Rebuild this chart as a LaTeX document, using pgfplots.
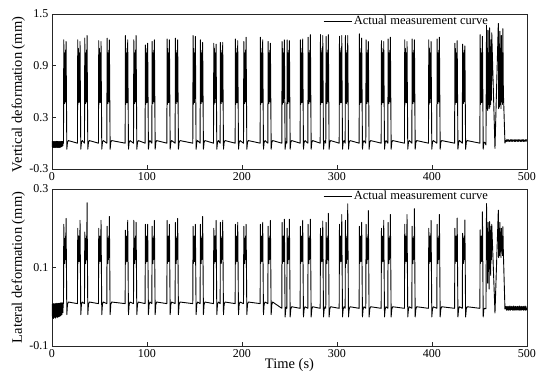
\documentclass[border=0pt]{standalone}
\usepackage{pgfplots}
\pgfplotsset{compat=1.18}
\usepackage{pgfplotstable}
\usepackage{fontspec}
\setmainfont{Liberation Serif}

\pgfplotstableread{
t v l
0.00 -0.03 -0.010
0.25 0.02 0.006
0.50 -0.05 -0.028
0.75 0.01 0.004
1.00 -0.04 -0.022
1.25 0.02 0.008
1.50 -0.05 -0.030
1.75 0.00 0.002
2.00 -0.04 -0.025
2.25 0.02 0.007
2.50 -0.05 -0.027
2.75 0.01 0.005
3.00 -0.03 -0.020
3.25 0.02 0.008
3.50 -0.05 -0.029
3.75 0.01 0.003
4.00 -0.04 -0.024
4.25 0.02 0.008
4.50 -0.05 -0.026
4.75 0.01 0.006
5.00 -0.04 -0.021
5.25 0.02 0.009
5.50 -0.05 -0.028
5.75 0.00 0.004
6.00 -0.04 -0.023
6.25 0.02 0.008
6.50 -0.05 -0.026
6.75 0.01 0.006
7.00 -0.03 -0.019
7.25 0.02 0.009
7.50 -0.05 -0.025
7.75 0.01 0.005
8.00 -0.04 -0.022
8.25 0.02 0.009
8.50 -0.05 -0.024
8.75 0.01 0.007
9.00 -0.04 -0.018
9.25 0.02 0.010
9.50 -0.04 -0.022
9.75 0.01 0.006
10.00 -0.04 -0.016
10.25 0.02 0.010
10.50 -0.04 -0.020
10.75 0.01 0.008
11.00 -0.03 -0.014
11.25 0.02 0.010
11.50 -0.03 -0.015
11.75 0.01 0.008
12.1 0.00 0.008
12.4 1.20 0.210
12.7 0.50 0.120
13.0 1.05 0.175
13.3 0.46 0.110
13.6 1.00 0.165
13.9 0.52 0.120
14.2 1.08 0.180
14.5 0.48 0.130
14.8 1.18 0.225
15.6 -0.07 -0.020
16.3 0.01 0.006
17.2 0.03 0.012
26.8 0.00 0.008
27.1 1.20 0.200
27.4 0.45 0.110
27.7 1.10 0.170
28.0 0.50 0.125
28.3 0.95 0.180
28.6 0.47 0.115
28.9 1.05 0.170
29.2 0.52 0.125
29.5 1.18 0.220
30.3 -0.07 -0.020
31.0 0.01 0.006
31.9 0.03 0.012
34.2 0.00 0.008
34.5 1.22 0.190
34.8 0.50 0.120
35.1 1.05 0.175
35.4 0.46 0.110
35.7 1.00 0.165
36.0 0.52 0.120
36.3 1.08 0.180
36.6 0.48 0.130
36.9 1.25 0.265
37.7 -0.07 -0.020
38.4 0.01 0.006
39.3 0.03 0.012
48.9 0.00 0.008
49.2 1.19 0.200
49.5 0.45 0.110
49.8 1.10 0.170
50.1 0.50 0.125
50.4 0.95 0.180
50.7 0.47 0.115
51.0 1.05 0.170
51.3 0.52 0.125
51.6 1.18 0.220
52.4 -0.07 -0.020
53.1 0.01 0.006
54.0 0.03 0.012
57.7 0.00 0.008
58.0 1.22 0.205
58.3 0.50 0.120
58.6 1.05 0.175
58.9 0.46 0.110
59.2 1.00 0.165
59.5 0.52 0.120
59.8 1.08 0.180
60.1 0.48 0.130
60.4 1.20 0.230
61.2 -0.07 -0.020
61.9 0.01 0.006
62.8 0.03 0.012
77.0 0.00 0.008
77.3 1.25 0.195
77.6 0.45 0.110
77.9 1.10 0.170
78.2 0.50 0.125
78.5 0.95 0.180
78.8 0.47 0.115
79.1 1.05 0.170
79.4 0.52 0.125
79.7 1.20 0.220
80.5 -0.07 -0.020
81.2 0.01 0.006
82.1 0.03 0.012
85.8 0.00 0.008
86.1 1.20 0.220
86.4 0.50 0.120
86.7 1.05 0.175
87.0 0.46 0.110
87.3 1.00 0.165
87.6 0.52 0.120
87.9 1.08 0.180
88.2 0.48 0.130
88.5 1.25 0.215
89.3 -0.07 -0.020
90.0 0.01 0.006
90.9 0.03 0.012
98.0 0.00 0.008
98.3 1.14 0.210
98.6 0.45 0.110
98.9 1.10 0.170
99.2 0.50 0.125
99.5 0.95 0.180
99.8 0.47 0.115
100.1 1.05 0.170
100.4 0.52 0.125
100.7 1.16 0.210
101.5 -0.07 -0.020
102.2 0.01 0.006
103.1 0.03 0.012
105.1 0.00 0.008
105.4 1.18 0.205
105.7 0.50 0.120
106.0 1.05 0.175
106.3 0.46 0.110
106.6 1.00 0.165
106.9 0.52 0.120
107.2 1.08 0.180
107.5 0.48 0.130
107.8 1.20 0.220
108.6 -0.07 -0.020
109.3 0.01 0.006
110.2 0.03 0.012
120.9 0.00 0.008
121.2 1.21 0.220
121.5 0.45 0.110
121.8 1.10 0.170
122.1 0.50 0.125
122.4 0.95 0.180
122.7 0.47 0.115
123.0 1.05 0.170
123.3 0.52 0.125
123.6 1.20 0.210
124.4 -0.07 -0.020
125.1 0.01 0.006
126.0 0.03 0.012
129.6 0.00 0.008
129.9 1.22 0.215
130.2 0.50 0.120
130.5 1.05 0.175
130.8 0.46 0.110
131.1 1.00 0.165
131.4 0.52 0.120
131.7 1.08 0.180
132.0 0.48 0.130
132.3 1.20 0.225
133.1 -0.07 -0.020
133.8 0.01 0.006
134.7 0.03 0.012
148.2 0.00 0.008
148.5 1.25 0.205
148.8 0.45 0.110
149.1 1.10 0.170
149.4 0.50 0.125
149.7 0.95 0.180
150.0 0.47 0.115
150.3 1.05 0.170
150.6 0.52 0.125
150.9 1.24 0.210
151.7 -0.07 -0.020
152.4 0.01 0.006
153.3 0.03 0.012
155.9 0.00 0.008
156.2 1.20 0.210
156.5 0.50 0.120
156.8 1.05 0.175
157.1 0.46 0.110
157.4 1.00 0.165
157.7 0.52 0.120
158.0 1.08 0.180
158.3 0.48 0.130
158.6 1.17 0.230
159.4 -0.07 -0.020
160.1 0.01 0.006
161.0 0.03 0.012
170.0 0.00 0.008
170.3 1.16 0.200
170.6 0.45 0.110
170.9 1.10 0.170
171.2 0.50 0.125
171.5 0.95 0.180
171.8 0.47 0.115
172.1 1.05 0.170
172.4 0.52 0.125
172.7 1.15 0.220
173.5 -0.07 -0.020
174.2 0.01 0.006
175.1 0.03 0.012
177.0 0.00 0.008
177.3 1.17 0.215
177.6 0.50 0.120
177.9 1.05 0.175
178.2 0.46 0.110
178.5 1.00 0.165
178.8 0.52 0.120
179.1 1.08 0.180
179.4 0.48 0.130
179.7 1.17 0.220
180.5 -0.07 -0.020
181.2 0.01 0.006
182.1 0.03 0.012
192.8 0.00 0.008
193.1 1.21 0.210
193.4 0.45 0.110
193.7 1.10 0.170
194.0 0.50 0.125
194.3 0.95 0.180
194.6 0.47 0.115
194.9 1.05 0.170
195.2 0.52 0.125
195.5 1.19 0.215
196.3 -0.07 -0.020
197.0 0.01 0.006
197.9 0.03 0.012
201.6 0.00 0.008
201.9 1.18 0.205
202.2 0.50 0.120
202.5 1.05 0.175
202.8 0.46 0.110
203.1 1.00 0.165
203.4 0.52 0.120
203.7 1.08 0.180
204.0 0.48 0.130
204.3 1.23 0.210
205.1 -0.07 -0.020
205.8 0.01 0.006
206.7 0.03 0.012
219.1 0.00 0.008
219.4 1.23 0.210
219.7 0.45 0.110
220.0 1.10 0.170
220.3 0.50 0.125
220.6 0.95 0.180
220.9 0.47 0.115
221.2 1.05 0.170
221.5 0.52 0.125
221.8 1.20 0.215
222.6 -0.07 -0.020
223.3 0.01 0.006
224.2 0.03 0.012
227.2 0.00 0.008
227.5 1.18 0.205
227.8 0.50 0.120
228.1 1.05 0.175
228.4 0.46 0.110
228.7 1.00 0.165
229.0 0.52 0.120
229.3 1.08 0.180
229.6 0.48 0.130
229.9 1.16 0.220
230.7 -0.07 -0.020
231.4 0.01 0.006
232.3 0.03 0.012
241.9 0.00 -0.004
242.2 1.18 0.215
242.5 0.45 0.110
242.8 1.10 0.170
243.1 0.50 0.125
243.4 0.95 0.180
243.7 0.47 0.115
244.0 1.05 0.170
244.3 0.52 0.125
244.6 1.20 0.223
245.4 -0.07 -0.026
246.1 0.01 -0.006
246.9 0.02 0.000
247.2 0.00 -0.004
247.5 1.20 0.200
247.8 0.50 0.120
248.1 1.05 0.175
248.4 0.46 0.110
248.7 1.00 0.165
249.0 0.52 0.120
249.3 1.08 0.180
249.6 0.48 0.130
249.9 1.19 0.223
250.7 -0.07 -0.026
251.4 0.01 -0.006
252.3 0.03 0.000
261.2 0.00 -0.004
261.5 1.20 0.205
261.8 0.45 0.110
262.1 1.10 0.170
262.4 0.50 0.125
262.7 0.95 0.180
263.0 0.47 0.115
263.3 1.05 0.170
263.6 0.52 0.125
263.9 1.21 0.220
264.7 -0.07 -0.026
265.4 0.01 -0.006
266.3 0.03 0.000
269.3 0.00 -0.004
269.6 1.23 0.210
269.9 0.50 0.120
270.2 1.05 0.175
270.5 0.46 0.110
270.8 1.00 0.165
271.1 0.52 0.120
271.4 1.08 0.180
271.7 0.48 0.130
272.0 1.26 0.223
272.8 -0.07 -0.026
273.5 0.01 -0.006
274.4 0.03 0.000
282.3 0.00 -0.004
282.6 1.26 0.200
282.9 0.45 0.110
283.2 1.10 0.170
283.5 0.50 0.125
283.8 0.95 0.180
284.1 0.47 0.115
284.4 1.05 0.170
284.7 0.52 0.125
285.0 1.25 0.218
285.8 -0.07 -0.026
286.5 0.01 -0.006
287.4 0.03 0.000
288.2 0.00 -0.004
288.5 1.24 0.215
288.8 0.50 0.120
289.1 1.05 0.175
289.4 0.46 0.110
289.7 1.00 0.165
290.0 0.52 0.120
290.3 1.08 0.180
290.6 0.48 0.130
290.9 1.26 0.238
291.7 -0.07 -0.026
292.4 0.01 -0.006
293.3 0.03 0.000
302.3 0.00 -0.004
302.6 1.24 0.210
302.9 0.45 0.110
303.2 1.10 0.170
303.5 0.50 0.125
303.8 0.95 0.180
304.1 0.47 0.115
304.4 1.05 0.170
304.7 0.52 0.125
305.0 1.25 0.235
305.8 -0.07 -0.026
306.5 0.01 -0.006
307.4 0.03 0.000
308.6 0.00 -0.004
308.9 1.25 0.220
309.2 0.50 0.120
309.5 1.05 0.175
309.8 0.46 0.110
310.1 1.00 0.165
310.4 0.52 0.120
310.7 1.08 0.180
311.0 0.48 0.130
311.3 1.25 0.262
312.1 -0.07 -0.026
312.8 0.01 -0.006
313.7 0.03 0.000
323.3 0.00 -0.004
323.6 1.27 0.205
323.9 0.45 0.110
324.2 1.10 0.170
324.5 0.50 0.125
324.8 0.95 0.180
325.1 0.47 0.115
325.4 1.05 0.170
325.7 0.52 0.125
326.0 1.22 0.215
326.8 -0.07 -0.026
327.5 0.01 -0.006
328.4 0.03 0.000
330.3 0.00 -0.004
330.6 1.20 0.210
330.9 0.50 0.120
331.2 1.05 0.175
331.5 0.46 0.110
331.8 1.00 0.165
332.1 0.52 0.120
332.4 1.08 0.180
332.7 0.48 0.130
333.0 1.18 0.245
333.8 -0.07 -0.026
334.5 0.01 -0.006
335.4 0.03 0.000
346.5 0.00 -0.004
346.8 1.19 0.200
347.1 0.45 0.110
347.4 1.10 0.170
347.7 0.50 0.125
348.0 0.95 0.180
348.3 0.47 0.115
348.6 1.05 0.170
348.9 0.52 0.125
349.2 1.18 0.220
350.0 -0.07 -0.026
350.7 0.01 -0.006
351.6 0.03 0.000
353.5 0.00 -0.004
353.8 1.21 0.215
354.1 0.50 0.120
354.4 1.05 0.175
354.7 0.46 0.110
355.0 1.00 0.165
355.3 0.52 0.120
355.6 1.08 0.180
355.9 0.48 0.130
356.2 1.23 0.235
357.0 -0.07 -0.026
357.7 0.01 -0.006
358.6 0.03 0.000
371.0 0.00 -0.004
371.3 1.20 0.210
371.6 0.45 0.110
371.9 1.10 0.170
372.2 0.50 0.125
372.5 0.95 0.180
372.8 0.47 0.115
373.1 1.05 0.170
373.4 0.52 0.125
373.7 1.18 0.235
374.5 -0.07 -0.026
375.2 0.01 -0.006
376.1 0.03 0.000
378.8 0.00 -0.004
379.1 1.21 0.205
379.4 0.50 0.120
379.7 1.05 0.175
380.0 0.46 0.110
380.3 1.00 0.165
380.6 0.52 0.120
380.9 1.08 0.180
381.2 0.48 0.130
381.5 1.20 0.250
382.3 -0.07 -0.026
383.0 0.01 -0.006
383.9 0.03 0.000
396.3 0.00 -0.004
396.6 1.20 0.200
396.9 0.45 0.110
397.2 1.10 0.170
397.5 0.50 0.125
397.8 0.95 0.180
398.1 0.47 0.115
398.4 1.05 0.170
398.7 0.52 0.125
399.0 1.18 0.220
399.8 -0.07 -0.026
400.5 0.01 -0.006
401.4 0.03 0.000
405.1 0.00 -0.004
405.4 1.21 0.210
405.7 0.50 0.120
406.0 1.05 0.175
406.3 0.46 0.110
406.6 1.00 0.165
406.9 0.52 0.120
407.2 1.08 0.180
407.5 0.48 0.130
407.8 1.23 0.235
408.6 -0.07 -0.026
409.3 0.01 -0.006
410.2 0.03 0.000
423.8 0.00 -0.004
424.1 1.16 0.200
424.4 0.45 0.110
424.7 1.10 0.170
425.0 0.50 0.125
425.3 0.95 0.180
425.6 0.47 0.115
425.9 1.05 0.170
426.2 0.52 0.125
426.5 1.19 0.226
427.3 -0.07 -0.026
428.0 0.01 -0.006
428.9 0.03 0.000
431.9 0.00 -0.004
432.2 1.15 0.187
432.5 0.50 0.120
432.8 1.05 0.175
433.1 0.46 0.110
433.4 1.00 0.165
433.7 0.52 0.120
434.0 1.08 0.180
434.3 0.48 0.130
434.6 1.13 0.221
435.4 -0.07 -0.026
436.1 0.01 -0.006
437.0 0.03 0.000
450.4 0.00 -0.004
450.7 1.26 0.196
451.0 0.45 0.110
451.3 1.10 0.170
451.6 0.50 0.125
451.9 0.95 0.180
452.2 0.47 0.115
452.5 1.05 0.170
452.8 0.52 0.125
453.1 1.24 0.242
453.9 -0.07 -0.026
454.6 0.01 -0.006
455.5 0.01 -0.004
456.8 -0.02 -0.005
457.4 1.37 0.263
457.8 0.40 0.120
458.2 1.10 0.200
458.6 0.38 0.060
459.0 1.31 0.215
459.4 0.45 0.090
459.8 1.05 0.190
460.2 0.40 0.045
460.6 1.34 0.217
461.0 0.42 0.110
461.4 1.12 0.195
461.8 0.45 0.080
462.2 1.20 0.205
462.6 0.50 0.120
462.9 1.28 0.210
466.3 -0.06 -0.016
469.8 1.39 0.246
470.2 0.40 0.125
470.6 1.15 0.200
471.0 0.42 0.130
471.4 1.30 0.215
471.8 0.45 0.140
472.2 1.10 0.190
472.6 0.40 0.125
473.0 1.25 0.200
473.4 0.48 0.150
473.8 1.05 0.180
474.2 0.45 0.130
474.6 1.33 0.204
475.1 0.60 0.140
476.8 0.00 -0.006
477.5 0.03 -0.003
478.0 0.02 0.001
478.5 0.04 -0.009
479.0 0.02 0.000
479.5 0.04 -0.008
480.0 0.025 0.001
480.5 0.04 -0.009
481.0 0.02 0.000
481.5 0.035 -0.008
482.0 0.02 0.002
482.5 0.04 -0.009
483.0 0.025 0.000
483.5 0.04 -0.007
484.0 0.02 0.001
484.5 0.04 -0.009
485.0 0.02 0.000
485.5 0.035 -0.008
486.0 0.025 0.002
486.5 0.04 -0.009
487.0 0.02 0.000
487.5 0.04 -0.008
488.0 0.02 0.001
488.5 0.04 -0.009
489.0 0.025 0.000
489.5 0.035 -0.007
490.0 0.02 0.001
490.5 0.04 -0.009
491.0 0.02 0.000
491.5 0.04 -0.008
492.0 0.025 0.002
492.5 0.04 -0.009
493.0 0.02 0.000
493.5 0.035 -0.008
494.0 0.02 0.001
494.5 0.04 -0.009
495.0 0.025 0.000
495.5 0.04 -0.007
496.0 0.02 0.001
496.5 0.04 -0.009
497.0 0.02 0.000
497.5 0.035 -0.008
498.0 0.025 0.002
498.5 0.04 -0.009
499.0 0.02 0.000
499.5 0.04 -0.008
500.0 0.03 -0.004
}\datatable

\pgfplotsset{
  myaxis/.style={
    scale only axis,
    width=475pt,
    xmin=0, xmax=500,
    xtick={0,100,200,300,400,500},
    xticklabels={0,100,200,300,400,500},
    tick align=inside,
    tick pos=left,
    major tick length=4pt,
    axis line style={line width=0.8pt, black!85},
    every tick/.style={line width=0.7pt, black!85},
    ticklabel style={font=\fontsize{12}{14}\selectfont},
    label style={font=\fontsize{14.5}{17}\selectfont},
    legend cell align=left,
    legend style={draw=none, fill=none, anchor=west, inner sep=0pt,
      font=\fontsize{12.5}{15}\selectfont},
    legend image code/.code={\draw[#1, line width=0.7pt] (0pt,0pt) -- (28pt,0pt);},
  }
}

\begin{document}
\begin{tikzpicture}[x=1pt,y=1pt]
\useasboundingbox (0,0) rectangle (550,378);
\begin{axis}[myaxis,
  at={(52pt,209pt)}, anchor=south west, height=155pt,
  ymin=-0.3, ymax=1.5,
  ytick={-0.3,0.3,0.9,1.5}, yticklabels={-0.3,0.3,0.9,1.5},
  ylabel={Vertical deformation (mm)},
  ylabel style={at={(axis description cs:-0.071,0.48)}, anchor=center},
  legend style={at={(axis description cs:0.5705,0.955)}}]
\addplot[black, line width=0.9pt, line join=round] table[x=t,y=v]{\datatable};
\addlegendentry{Actual measurement curve}
\end{axis}
\begin{axis}[myaxis,
  at={(52pt,32pt)}, anchor=south west, height=157pt,
  ymin=-0.1, ymax=0.3,
  ytick={-0.1,0.1,0.3}, yticklabels={-0.1,0.1,0.3},
  ylabel={Lateral deformation (mm)},
  ylabel style={at={(axis description cs:-0.071,0.5)}, anchor=center},
  xlabel={Time (s)},
  xlabel style={at={(axis description cs:0.5,0)}, anchor=center, yshift=-19pt},
  legend style={at={(axis description cs:0.5705,0.955)}}]
\addplot[black, line width=0.9pt, line join=round] table[x=t,y=l]{\datatable};
\addlegendentry{Actual measurement curve}
\end{axis}
\end{tikzpicture}
\end{document}
